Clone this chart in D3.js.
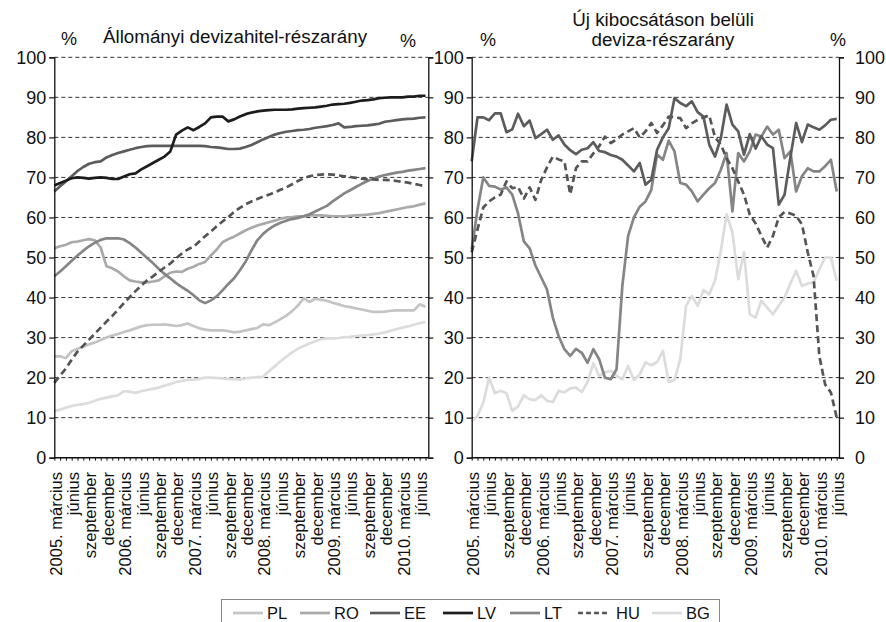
<!DOCTYPE html>
<html>
<head>
<meta charset="utf-8">
<script src="https://cdn.jsdelivr.net/npm/d3@7"></script>
<style>
html,body{margin:0;padding:0;background:#fff;}
svg{display:block;font-family:"Liberation Sans",Arial,sans-serif;}
</style>
</head>
<body>
<svg id="chart" width="886" height="622"></svg>
<script>
// ---------- DATA ----------
const tickLabels = ["2005. március","június","szeptember","december",
  "2006. március","június","szeptember","december",
  "2007. március","június","szeptember","december",
  "2008. március","június","szeptember","december",
  "2009. március","június","szeptember","december",
  "2010. március","június"];

const seriesNames = ["PL","RO","EE","LV","LT","HU","BG"];

// Left panel: stock FX share (monthly, 2005 March – 2010 July)
const leftPL = [25.3,25.3,24.9,26.6,27.2,27.8,28.3,28.8,29.4,30.0,30.5,30.9,31.4,31.8,32.3,32.8,33.1,33.2,33.2,33.3,33.1,32.9,33.1,33.5,32.9,32.3,32.0,31.8,31.8,31.8,31.6,31.3,31.5,31.8,32.1,32.4,33.3,33.1,33.8,34.6,35.5,36.6,38.0,39.8,38.9,39.7,39.4,39.2,38.7,38.3,37.9,37.6,37.3,37.0,36.7,36.4,36.4,36.5,36.7,36.8,36.8,36.8,36.8,38.3,37.7];
const leftRO = [52.3,52.8,53.2,53.8,54.0,54.3,54.6,54.3,52.5,47.8,47.3,46.5,45.3,44.3,44.0,43.8,43.8,44.0,44.3,45.3,46.2,46.5,46.4,47.2,47.7,48.4,48.9,50.5,52.0,53.8,54.6,55.2,56.0,56.8,57.4,58.0,58.4,58.8,59.2,59.7,60.0,60.1,60.3,60.3,60.5,60.5,60.5,60.4,60.3,60.3,60.3,60.4,60.5,60.6,60.7,60.9,61.1,61.4,61.7,62.0,62.3,62.6,62.8,63.2,63.5];
const leftEE = [66.5,67.8,69.0,70.3,71.6,72.6,73.4,73.8,74.0,75.0,75.6,76.1,76.5,76.9,77.3,77.6,77.8,77.9,77.9,77.9,77.9,77.9,77.9,77.9,77.9,77.9,77.8,77.6,77.5,77.3,77.1,77.1,77.2,77.6,78.1,78.8,79.5,80.1,80.7,81.1,81.4,81.6,81.8,81.9,82.1,82.4,82.6,82.8,83.1,83.5,82.5,82.6,82.8,82.9,83.0,83.2,83.4,83.9,84.1,84.3,84.5,84.6,84.7,84.9,85.0];
const leftLV = [68.0,68.6,69.2,69.8,70.0,69.9,69.7,69.9,70.0,69.9,69.6,69.6,70.2,70.8,71.0,72.0,72.8,73.6,74.4,75.2,76.5,80.7,81.7,82.5,81.8,82.6,83.5,85.0,85.2,85.2,84.0,84.5,85.2,85.8,86.2,86.5,86.7,86.8,86.9,86.9,86.9,87.0,87.2,87.3,87.4,87.5,87.7,87.9,88.2,88.3,88.4,88.6,88.9,89.2,89.3,89.5,89.8,89.9,90.0,90.0,90.0,90.2,90.2,90.4,90.4];
const leftLT = [45.3,46.5,47.8,49.2,50.5,51.7,52.8,53.7,54.4,54.8,54.8,54.8,54.5,53.6,52.5,51.2,49.9,48.6,47.2,45.9,44.8,43.6,42.6,41.7,40.6,39.3,38.6,39.3,40.3,41.8,43.4,44.8,46.8,49.0,51.8,54.3,55.9,57.1,58.0,58.7,59.2,59.6,59.9,60.3,60.8,61.5,62.2,62.9,64.0,65.0,66.0,66.8,67.6,68.4,69.1,69.7,70.2,70.6,70.9,71.2,71.4,71.7,71.9,72.1,72.3];
const leftHU = [18.7,20.5,22.3,24.5,26.5,28.0,29.5,31.0,32.5,34.0,35.4,37.0,38.6,40.1,41.6,43.0,44.3,45.3,46.4,47.5,48.5,49.8,51.0,52.0,52.7,54.0,55.3,56.5,57.8,59.0,60.1,61.4,62.4,63.3,64.0,64.6,65.2,65.7,66.3,66.9,67.5,68.3,69.1,69.8,70.3,70.6,70.7,70.8,70.7,70.5,70.3,70.1,69.9,69.7,69.5,69.5,69.4,69.4,69.3,69.1,68.9,68.7,68.4,68.1,67.8];
const leftBG = [11.7,12.0,12.5,12.9,13.2,13.4,13.7,14.2,14.7,15.0,15.3,15.6,16.6,16.5,16.2,16.6,16.9,17.2,17.5,18.0,18.4,18.9,19.2,19.4,19.5,19.7,20.0,20.0,19.9,19.8,19.7,19.6,19.5,19.8,20.0,20.1,20.2,21.6,22.8,24.1,25.2,26.3,27.2,27.9,28.5,29.1,29.6,29.8,29.8,29.9,30.1,30.2,30.4,30.5,30.6,30.8,31.0,31.3,31.7,32.1,32.5,32.8,33.2,33.6,33.9];

// Right panel: FX share of new lending (monthly, 2005 March – 2010 June)
const rightEE = [74.0,85.0,85.0,84.3,86.0,86.0,81.3,82.0,85.9,82.8,84.2,79.8,80.8,81.9,79.4,80.5,78.2,76.8,75.8,76.9,77.3,78.8,76.6,76.3,75.6,75.2,74.4,73.0,71.5,73.6,68.2,69.4,76.9,80.0,82.3,89.8,88.6,87.8,89.0,86.3,85.2,78.2,75.2,79.8,88.2,83.2,81.5,75.7,80.8,77.2,80.3,78.2,77.3,63.2,65.7,75.0,83.6,78.8,83.2,82.5,81.9,83.0,84.4,84.6];
const rightLT = [52.0,62.0,70.0,67.9,67.7,67.0,67.5,65.7,61.0,54.0,52.3,48.0,45.0,42.0,35.0,30.4,27.1,25.4,27.2,26.2,23.7,27.1,24.6,20.0,19.6,22.1,42.9,55.4,60.0,62.7,64.0,66.9,75.7,74.4,79.2,76.5,68.6,68.2,66.5,64.0,65.7,67.3,68.6,71.9,76.1,61.5,76.1,74.0,76.5,80.7,80.2,82.7,80.7,81.9,74.8,76.5,66.5,70.3,72.3,71.5,71.5,72.8,74.4,66.5];
const rightHU = [51.3,57.0,62.5,64.0,65.0,65.7,69.0,67.3,67.6,64.7,67.5,64.4,69.4,72.5,75.2,74.5,74.0,65.8,72.3,74.0,74.0,76.0,77.8,80.2,78.6,79.5,80.7,81.5,82.3,80.0,81.5,83.6,81.1,83.0,85.2,85.0,84.8,82.3,83.5,84.4,85.0,85.5,80.0,78.2,74.8,72.3,69.0,65.7,60.7,58.5,55.4,52.5,55.4,60.0,61.4,61.0,60.4,58.3,51.3,45.4,25.4,18.3,16.3,10.0];
const rightBG = [9.2,10.4,13.8,20.0,16.1,16.7,16.1,11.7,12.8,15.6,14.6,14.4,15.6,14.2,13.9,16.7,16.3,17.3,17.5,16.4,18.9,23.6,20.4,21.3,21.7,20.4,19.6,22.9,19.4,20.8,23.8,23.1,23.9,26.7,18.9,19.4,24.6,37.9,40.4,37.9,41.9,40.8,44.2,51.7,60.8,56.3,44.6,51.3,35.8,35.0,39.2,37.5,35.8,38.0,40.0,43.5,46.7,42.9,43.5,43.8,47.0,50.0,50.0,44.2];

const yTicks = [0,10,20,30,40,50,60,70,80,90,100];

// ---------- STYLES ----------
const styles = {
  PL:{color:"#c4c4c4",dash:null,width:2.7},
  RO:{color:"#a9a9a9",dash:null,width:2.7},
  EE:{color:"#5c5c5c",dash:null,width:2.7},
  LV:{color:"#1c1c1c",dash:null,width:2.7},
  LT:{color:"#858585",dash:null,width:2.7},
  HU:{color:"#555555",dash:"7,4",width:2.7},
  BG:{color:"#dcdcdc",dash:null,width:2.7}
};

const svg = d3.select("#chart");
const y = d3.scaleLinear().domain([0,100]).range([457.7,57.3]);

function panel(opt){
  const g = svg.append("g");
  const x = d3.scaleLinear().domain([0,opt.n-1]).range([opt.x0, opt.x1]);
  g.append("g").selectAll("line").data(yTicks.filter(d=>d>0)).join("line")
    .attr("x1",opt.left).attr("x2",opt.right)
    .attr("y1",d=>y(d)).attr("y2",d=>y(d))
    .attr("stroke","#333").attr("stroke-width",1).attr("stroke-dasharray","4,3");
  opt.series.forEach(s=>{
    const st = styles[s.name];
    g.append("path").datum(s.values)
      .attr("fill","none").attr("stroke",st.color).attr("stroke-width",st.width)
      .attr("stroke-linejoin","round")
      .attr("stroke-dasharray",st.dash)
      .attr("d",d3.line().x((d,i)=>x(i)).y(d=>y(d)));
  });
  const yl = d3.axisLeft(y).tickValues(yTicks).tickSize(5).tickPadding(opt.leftLabels?3:0)
    .tickFormat(opt.leftLabels?d3.format("d"):"");
  const gl = g.append("g").attr("transform",`translate(${opt.left},0)`).call(yl);
  const yr = d3.axisRight(y).tickValues(yTicks).tickSize(5).tickPadding(opt.rightLabels?11:0)
    .tickFormat(opt.rightLabels?d3.format("d"):"");
  const gr = g.append("g").attr("transform",`translate(${opt.right},0)`).call(yr);
  [gl,gr].forEach(a=>{
    a.select(".domain").attr("stroke","#111").attr("stroke-width",1.3);
    a.selectAll(".tick line").attr("stroke","#111").attr("stroke-width",1.2);
    a.selectAll("text").attr("font-size",18).attr("fill","#111")
      .attr("font-family","'Liberation Sans',Arial,sans-serif");
  });
  const xa = d3.axisBottom(x).tickValues(d3.range(0,opt.nTicks)).tickSize(3).tickFormat("");
  const gb = g.append("g").attr("transform",`translate(0,${y(0)})`).call(xa);
  gb.select(".domain").remove();
  gb.selectAll(".tick line").attr("stroke","#111").attr("stroke-width",1);
  g.append("line").attr("x1",opt.left).attr("x2",opt.right).attr("y1",y(0)).attr("y2",y(0))
    .attr("stroke","#111").attr("stroke-width",1.5);
  g.append("g").selectAll("text").data(tickLabels).join("text")
    .attr("transform",(d,i)=>`translate(${x(i*3)+1.5},472) rotate(-90)`)
    .attr("text-anchor","end").attr("dy","0.35em")
    .attr("font-size",16.5).attr("fill","#111").text(d=>d);
  return g;
}

panel({left:54.3,right:428.3,x0:54.3,x1:425.5,n:65,nTicks:65,leftLabels:true,rightLabels:false,
  series:[{name:"PL",values:leftPL},{name:"RO",values:leftRO},{name:"BG",values:leftBG},
          {name:"LT",values:leftLT},{name:"HU",values:leftHU},{name:"EE",values:leftEE},{name:"LV",values:leftLV}]});
panel({left:471.7,right:839,x0:471.7,x1:836.7,n:64,nTicks:64,leftLabels:true,rightLabels:true,
  series:[{name:"BG",values:rightBG},{name:"LT",values:rightLT},{name:"HU",values:rightHU},{name:"EE",values:rightEE}]});

const T = (x,yy,txt,anchor="middle",fs=18)=>svg.append("text").attr("x",x).attr("y",yy)
  .attr("text-anchor",anchor).attr("font-size",fs).attr("fill","#111").text(txt);
T(69,45,"%");
T(235,42.5,"Állományi devizahitel-részarány","middle",18.8);
T(408,47,"%");
T(488,46,"%");
T(838,46,"%");
T(663,26,"Új kibocsátáson belüli","middle",18.8);
T(663,46,"deviza-részarány","middle",18.8);

const lg = svg.append("g");
lg.append("rect").attr("x",221.5).attr("y",599.5).attr("width",498).attr("height",40)
  .attr("fill","#fff").attr("stroke","#888").attr("stroke-width",1);
const legendX = [233,300,370,443,510,578,652];
seriesNames.forEach((n,i)=>{
  const st = styles[n];
  lg.append("line").attr("x1",legendX[i]).attr("x2",legendX[i]+30).attr("y1",613).attr("y2",613)
    .attr("stroke",st.color).attr("stroke-width",st.width).attr("stroke-dasharray",st.dash?"5,3":null);
  lg.append("text").attr("x",legendX[i]+34 + (n==="HU"?4:0)).attr("y",619).attr("font-size",16.5)
    .attr("fill","#111").text(n);
});
</script>
</body>
</html>
